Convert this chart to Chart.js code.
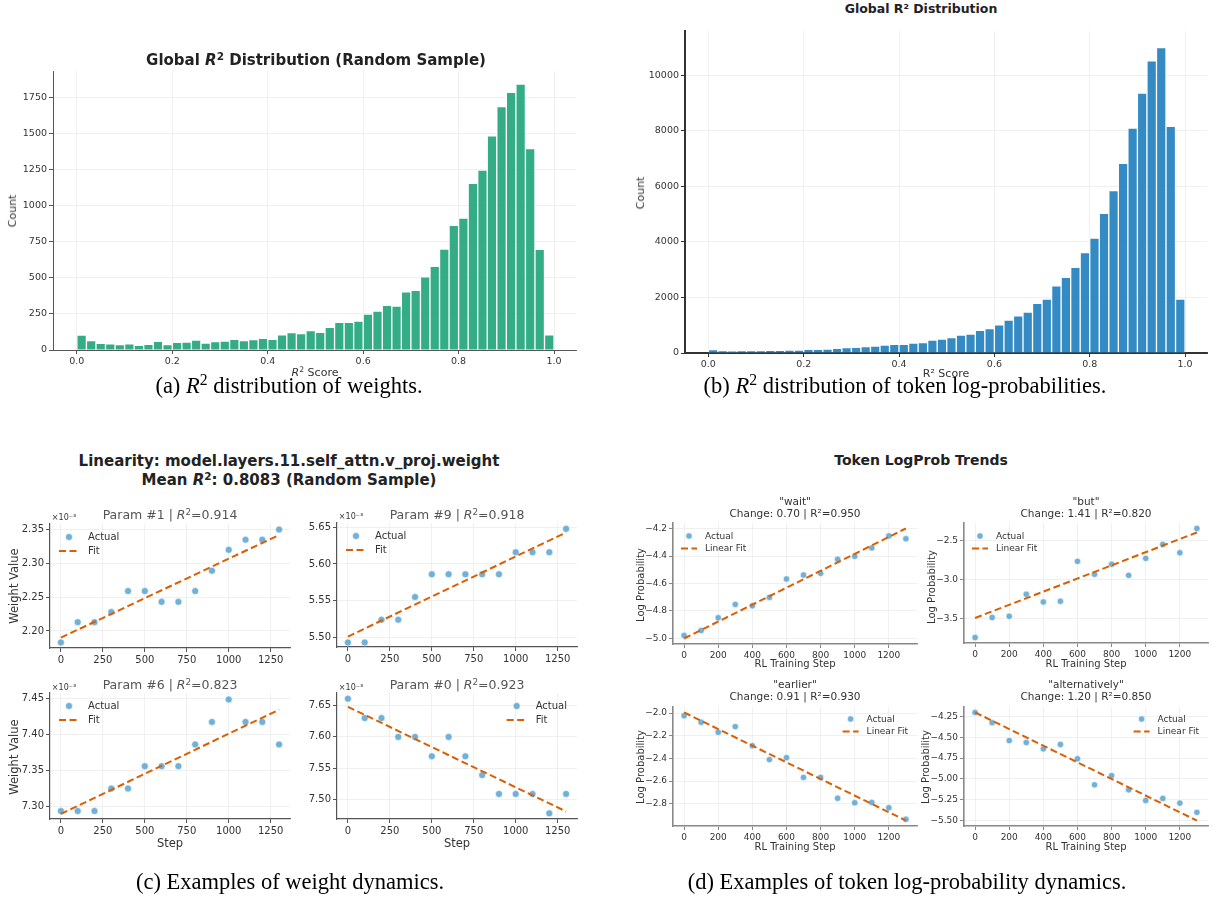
<!DOCTYPE html>
<html lang="en">
<head>
<meta charset="UTF-8" />
<title>R2 linearity figure</title>
<script src="https://cdn.jsdelivr.net/npm/chart.js@4.4.1/dist/chart.umd.min.js"></script>
<style>
  * { margin: 0; padding: 0; }
  body {
    width: 1212px; height: 897px; overflow: hidden; position: relative;
    background: #fff; color: #333;
    font-family: "DejaVu Sans", sans-serif;
  }
  canvas { position: absolute; }
  .txt { position: absolute; white-space: nowrap; transform: translate(-50%, -50%); line-height: 1.1; text-align: center; }
  .rot { transform: translate(-50%, -50%) rotate(-90deg); }
  .txt sup { font-size: 0.7em; vertical-align: 0.5em; line-height: 0; }
  .cap { font-family: "Liberation Serif", serif; font-size: 22.5px; color: #000; }
  .head { font-weight: bold; font-size: 15px; color: #222; }
</style>
</head>
<body>
<script>
  // ---------- data ----------
  const binWidth = 0.02;
  const weightR2Counts = [104, 65, 46, 42, 37, 42, 32, 40, 60, 37,
    53, 55, 69, 48, 58, 62, 74, 65, 72, 81,
    74, 106, 120, 113, 134, 122, 157, 192, 192, 201,
    249, 270, 309, 305, 404, 413, 508, 580, 700, 864,
    914, 1155, 1247, 1485, 1688, 1787, 1843, 1397, 697, 106];
  const tokenR2Counts = [120, 84, 72, 84, 84, 84, 96, 96, 108, 108,
    132, 132, 144, 168, 192, 204, 228, 252, 288, 312,
    312, 360, 372, 468, 504, 552, 648, 684, 816, 876,
    1019, 1187, 1343, 1475, 1787, 1943, 2422, 2722, 3082, 3622,
    4137, 5036, 5851, 6834, 8105, 9364, 10527, 11007, 8165, 1943];

  const steps = [0, 100, 200, 300, 400, 500, 600, 700, 800, 900, 1000, 1100, 1200, 1300];
  const fitSteps = [0, 1300];

  // weight values (x 1e-3)
  const param1 = [2.183, 2.213, 2.213, 2.228, 2.259, 2.259, 2.243, 2.243, 2.259, 2.289, 2.320, 2.335, 2.335, 2.350];
  const param1Fit = [2.190, 2.342];
  const param9 = [5.493, 5.493, 5.524, 5.524, 5.555, 5.586, 5.586, 5.586, 5.586, 5.586, 5.616, 5.616, 5.616, 5.648];
  const param9Fit = [5.501, 5.643];
  const param6 = [7.294, 7.294, 7.294, 7.325, 7.325, 7.356, 7.356, 7.356, 7.386, 7.417, 7.448, 7.417, 7.417, 7.386];
  const param6Fit = [7.290, 7.434];
  const param0 = [7.661, 7.630, 7.630, 7.600, 7.600, 7.569, 7.600, 7.569, 7.539, 7.509, 7.509, 7.509, 7.478, 7.509];
  const param0Fit = [7.648, 7.481];

  // token log-probabilities
  const waitLP = [-4.978, -4.942, -4.849, -4.752, -4.762, -4.701, -4.567, -4.538, -4.526, -4.424, -4.402, -4.341, -4.254, -4.275];
  const waitFit = [-5.0, -4.2];
  const butLP = [-3.749, -3.491, -3.474, -3.191, -3.290, -3.281, -2.766, -2.933, -2.804, -2.946, -2.727, -2.547, -2.655, -2.341];
  const butFit = [-3.496, -2.393];
  const earlierLP = [-2.023, -2.081, -2.169, -2.119, -2.288, -2.410, -2.393, -2.567, -2.567, -2.751, -2.791, -2.788, -2.835, -2.937];
  const earlierFit = [-1.994, -2.948];
  const altLP = [-4.202, -4.325, -4.540, -4.563, -4.639, -4.587, -4.758, -5.071, -4.960, -5.131, -5.258, -5.234, -5.290, -5.401];
  const altFit = [-4.202, -5.50];

  // tick labels
  const r2Ticks = [0, 0.2, 0.4, 0.6, 0.8, 1.0];
  const weightCountTicks = [0, 250, 500, 750, 1000, 1250, 1500, 1750];
  const tokenCountTicks = [0, 2000, 4000, 6000, 8000, 10000];
  const stepTicksW = [0, 250, 500, 750, 1000, 1250];
  const stepTicksT = [0, 200, 400, 600, 800, 1000, 1200];
  const p1Ticks = [2.20, 2.25, 2.30, 2.35];
  const p9Ticks = [5.50, 5.55, 5.60, 5.65];
  const p6Ticks = [7.30, 7.35, 7.40, 7.45];
  const p0Ticks = [7.50, 7.55, 7.60, 7.65];
  const waitTicks = [-5.0, -4.8, -4.6, -4.4, -4.2];
  const butTicks = [-3.5, -3.0, -2.5];
  const earlierTicks = [-2.8, -2.6, -2.4, -2.2, -2.0];
  const altTicks = [-5.50, -5.25, -5.00, -4.75, -4.50, -4.25];

  // ---------- helpers ----------
  Chart.defaults.font.family = '"DejaVu Sans", sans-serif';
  Chart.defaults.color = '#333';
  Chart.defaults.animation = false;
  Chart.defaults.plugins.legend.display = false;
  Chart.defaults.plugins.tooltip.enabled = false;

  const DOT = 'rgba(88,162,208,0.85)';
  const FIT = '#d95f02';

  function fmt(v, dec) {
    return (v < 0 ? '\u2212' : '') + Math.abs(v).toFixed(dec);
  }

  function label(html, x, y, style, cls) {
    const d = document.createElement('div');
    d.className = 'txt ' + (cls || '');
    d.innerHTML = html;
    d.style.left = x + 'px';
    d.style.top = y + 'px';
    Object.assign(d.style, style || {});
    document.body.appendChild(d);
  }

  const PT = 10, PR = 12;
  function makeCanvas(rect, yw, xh) {
    const c = document.createElement('canvas');
    const w = rect.r - rect.l + yw + PR, h = rect.b - rect.t + PT + xh;
    c.width = w; c.height = h;
    c.style.left = (rect.l - yw) + 'px';
    c.style.top = (rect.t - PT) + 'px';
    c.style.width = w + 'px';
    c.style.height = h + 'px';
    document.body.appendChild(c);
    return c;
  }

  function scaleOpts(o, horizontal) {
    return {
      type: 'linear',
      min: o.min, max: o.max,
      offset: false,
      afterBuildTicks: s => { s.ticks = o.ticks.map(v => ({ value: v })); },
      afterFit: s => { if (horizontal) s.height = o.size; else s.width = o.size; },
      ticks: {
        autoSkip: false, maxRotation: 0, padding: 2,
        font: { size: o.font }, color: '#333',
        callback: v => fmt(v, o.dec)
      },
      grid: { color: o.grid || '#ececec', lineWidth: 0.8, tickColor: o.spine, tickLength: 4, tickWidth: 1, offset: false },
      border: { display: true, color: o.spine, width: o.spineW }
    };
  }

  // legend drawn inside the plot area, like matplotlib's
  const innerLegend = {
    id: 'innerLegend',
    afterDatasetsDraw(chart, args, o) {
      if (!o.items) return;
      const { ctx, chartArea: a } = chart;
      ctx.save();
      ctx.font = o.size + 'px "DejaVu Sans"';
      const tw = Math.max(...o.items.map(t => ctx.measureText(t).width));
      const x0 = o.side === 'right' ? a.right - o.padX - tw - o.gap - o.handle : a.left + o.padX;
      o.items.forEach((t, i) => {
        const y = a.top + o.padY + i * o.lineH;
        if (i === 0) {
          ctx.beginPath();
          ctx.arc(x0 + o.handle / 2, y, o.dot, 0, Math.PI * 2);
          ctx.fillStyle = DOT; ctx.fill();
          ctx.strokeStyle = '#fff'; ctx.lineWidth = 0.6; ctx.stroke();
        } else {
          ctx.beginPath();
          ctx.setLineDash([7, 3.5]);
          ctx.strokeStyle = FIT; ctx.lineWidth = 2;
          ctx.moveTo(x0, y); ctx.lineTo(x0 + o.handle, y); ctx.stroke();
          ctx.setLineDash([]);
        }
        ctx.fillStyle = '#333';
        ctx.textBaseline = 'middle';
        ctx.textAlign = 'left';
        ctx.fillText(t, x0 + o.handle + o.gap, y + 0.5);
      });
      ctx.restore();
    }
  };
  Chart.register(innerLegend);

  function histogram(rect, counts, color, xCfg, yCfg) {
    const c = makeCanvas(rect, yCfg.size, xCfg.size);
    new Chart(c, {
      type: 'bar',
      data: {
        datasets: [{
          data: counts.map((v, i) => ({ x: (i + 0.5) * binWidth, y: v })),
          backgroundColor: color,
          borderColor: 'rgba(255,255,255,0.55)',
          borderWidth: 1,
          borderSkipped: 'start',
          barPercentage: 1, categoryPercentage: 1
        }]
      },
      options: {
        responsive: false,
        layout: { padding: { top: PT, right: PR, left: 0, bottom: 0 } },
        scales: { x: scaleOpts(xCfg, true), y: scaleOpts(yCfg, false) }
      }
    });
  }

  function trend(rect, vals, fit, xCfg, yCfg, leg) {
    const c = makeCanvas(rect, yCfg.size, xCfg.size);
    new Chart(c, {
      type: 'scatter',
      data: {
        datasets: [
          {
            data: steps.map((s, i) => ({ x: s, y: vals[i] })),
            pointRadius: leg.dot, pointBackgroundColor: DOT,
            pointBorderColor: '#fff', pointBorderWidth: 0.6, order: 1
          },
          {
            type: 'line',
            data: fitSteps.map((s, i) => ({ x: s, y: fit[i] })),
            showLine: true, pointRadius: 0, borderColor: FIT,
            borderWidth: 2, borderDash: [7, 3.5], fill: false, order: 0
          }
        ]
      },
      options: {
        responsive: false,
        layout: { padding: { top: PT, right: PR, left: 0, bottom: 0 } },
        scales: { x: scaleOpts(xCfg, true), y: scaleOpts(yCfg, false) },
        plugins: { innerLegend: leg }
      }
    });
  }

  // ---------- (a) weights R2 histogram ----------
  histogram({ l: 53, t: 71, r: 576, b: 350 }, weightR2Counts, 'rgba(30,164,122,0.9)',
    { min: -0.05, max: 1.046, ticks: r2Ticks, dec: 1, font: 9.5, size: 20, spine: '#555', spineW: 1 },
    { min: 0, max: 1934, ticks: weightCountTicks, dec: 0, font: 9.5, size: 44, spine: '#555', spineW: 1 });
  label('Global <i>R</i><sup>2</sup> Distribution (Random Sample)', 316, 60, { fontSize: '15px', fontWeight: 'bold', color: '#222' });
  label('Count', 13, 211, { fontSize: '11px' }, 'rot');
  label('<i>R</i><sup>2</sup> Score', 315, 373, { fontSize: '11px' });

  // ---------- (b) token R2 histogram ----------
  histogram({ l: 685, t: 31, r: 1207, b: 353 }, tokenR2Counts, 'rgba(35,128,190,0.92)',
    { min: -0.049, max: 1.046, ticks: r2Ticks, dec: 1, font: 9.5, size: 20, spine: '#333', spineW: 2 },
    { min: 0, max: 11600, ticks: tokenCountTicks, dec: 0, font: 9.5, size: 48, spine: '#333', spineW: 2 });
  label('Global R\u00b2 Distribution', 921, 9, { fontSize: '12.5px', fontWeight: 'bold', color: '#222' });
  label('Count', 641, 193, { fontSize: '11px' }, 'rot');
  label('R\u00b2 Score', 946, 374, { fontSize: '11px' });

  // ---------- (c) weight dynamics ----------
  const wx = { min: -65, max: 1365, ticks: stepTicksW, dec: 0, font: 10, size: 20, spine: '#555', spineW: 1.2 };
  const wLeft = { items: ['Actual', 'Fit'], side: 'left', size: 10, padX: 9, padY: 13, lineH: 14, handle: 20, gap: 9, dot: 3.5 };
  const wRight = Object.assign({}, wLeft, { side: 'right', padX: 10 });
  const wy = (lo, hi, t) => ({ min: lo, max: hi, ticks: t, dec: 2, font: 10, size: 36, spine: '#555', spineW: 1.2 });

  trend({ l: 50, t: 524, r: 290, b: 648 }, param1, param1Fit, wx, wy(2.1747, 2.3583, p1Ticks), wLeft);
  trend({ l: 337, t: 523, r: 577, b: 647 }, param9, param9Fit, wx, wy(5.4868, 5.6559, p9Ticks), wLeft);
  trend({ l: 50, t: 693, r: 290, b: 819 }, param6, param6Fit, wx, wy(7.283, 7.457, p6Ticks), wLeft);
  trend({ l: 337, t: 693, r: 577, b: 819 }, param0, param0Fit, wx, wy(7.469, 7.670, p0Ticks), wRight);

  label('Linearity: model.layers.11.self_attn.v_proj.weight', 289, 461, {}, 'head');
  label('Mean <i>R</i><sup>2</sup>: 0.8083 (Random Sample)', 289, 480, {}, 'head');
  const pStyle = { fontSize: '12.5px', color: '#555' };
  label('Param #1 | <i>R</i><sup>2</sup>=0.914', 170, 515, pStyle);
  label('Param #9 | <i>R</i><sup>2</sup>=0.918', 457, 515, pStyle);
  label('Param #6 | <i>R</i><sup>2</sup>=0.823', 170, 685, pStyle);
  label('Param #0 | <i>R</i><sup>2</sup>=0.923', 457, 685, pStyle);
  const oStyle = { fontSize: '8px' };
  label('\u00d710\u207b\u00b3', 64, 518, oStyle);
  label('\u00d710\u207b\u00b3', 351, 517, oStyle);
  label('\u00d710\u207b\u00b3', 64, 688, oStyle);
  label('\u00d710\u207b\u00b3', 351, 688, oStyle);
  label('Weight Value', 14, 586, { fontSize: '11.5px' }, 'rot');
  label('Weight Value', 14, 757, { fontSize: '11.5px' }, 'rot');
  label('Step', 170, 843, { fontSize: '11.5px' });
  label('Step', 457, 843, { fontSize: '11.5px' });

  // ---------- (d) token log-prob dynamics ----------
  const tx = { min: -65, max: 1365, ticks: stepTicksT, dec: 0, font: 9, size: 18, spine: '#888', spineW: 1.6 };
  const tLeft = { items: ['Actual', 'Linear Fit'], side: 'left', size: 9, padX: 8, padY: 13, lineH: 12.5, handle: 16, gap: 8, dot: 3.2 };
  const tRight = Object.assign({}, tLeft, { side: 'right', padX: 9, padY: 12 });
  const ty = (lo, hi, t, d) => ({ min: lo, max: hi, ticks: t, dec: d, font: 9, size: 34, spine: '#888', spineW: 1.6 });

  trend({ l: 673, t: 523, r: 917, b: 644 }, waitLP, waitFit, tx, ty(-5.04, -4.16, waitTicks, 1), tLeft);
  trend({ l: 964, t: 523, r: 1208, b: 643 }, butLP, butFit, tx, ty(-3.819, -2.271, butTicks, 1), tLeft);
  trend({ l: 673, t: 707, r: 917, b: 826 }, earlierLP, earlierFit, tx, ty(-2.996, -1.946, earlierTicks, 1), tRight);
  trend({ l: 964, t: 707, r: 1208, b: 826 }, altLP, altFit, tx, ty(-5.565, -4.137, altTicks, 2), tRight);

  label('Token LogProb Trends', 921, 461, { fontSize: '14px' }, 'head');
  const tStyle = { fontSize: '10.5px', lineHeight: '11.5px', color: '#333' };
  label('"wait"<br>Change: 0.70 | R\u00b2=0.950', 795, 507, tStyle);
  label('"but"<br>Change: 1.41 | R\u00b2=0.820', 1086, 507, tStyle);
  label('"earlier"<br>Change: 0.91 | R\u00b2=0.930', 795, 690, tStyle);
  label('"alternatively"<br>Change: 1.20 | R\u00b2=0.850', 1086, 690, tStyle);
  const lp = { fontSize: '10px' };
  label('Log Probability', 640, 585, lp, 'rot');
  label('Log Probability', 931, 587, lp, 'rot');
  label('Log Probability', 640, 767, lp, 'rot');
  label('Log Probability', 925, 767, lp, 'rot');
  label('RL Training Step', 795, 663, lp);
  label('RL Training Step', 1086, 663, lp);
  label('RL Training Step', 795, 846, lp);
  label('RL Training Step', 1086, 846, lp);

  // ---------- captions ----------
  label('(a) <i>R</i><sup>2</sup> distribution of weights.', 289, 386, {}, 'cap');
  label('(b) <i>R</i><sup>2</sup> distribution of token log-probabilities.', 905, 386, {}, 'cap');
  label('(c) Examples of weight dynamics.', 290, 882, {}, 'cap');
  label('(d) Examples of token log-probability dynamics.', 907, 882, {}, 'cap');
</script>
</body>
</html>
